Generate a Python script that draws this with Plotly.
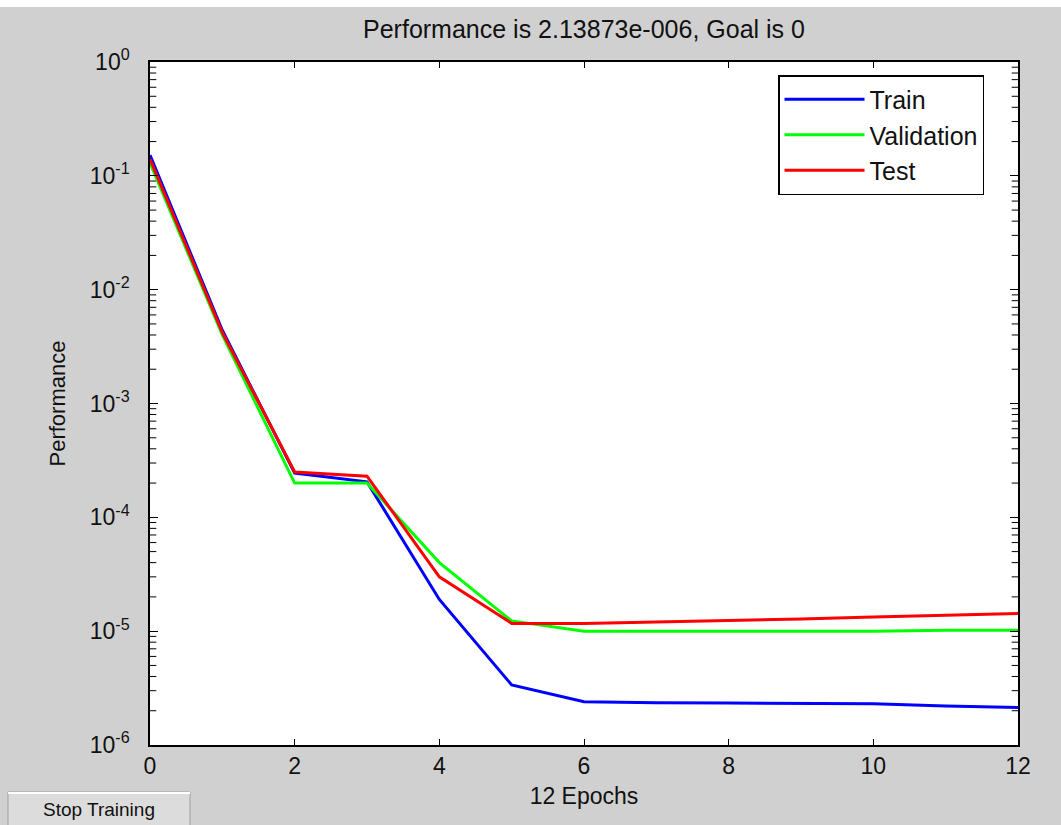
import plotly.graph_objects as go

epochs = list(range(13))
train = [0.152, 0.0044, 2.45e-4, 2.05e-4, 1.9e-5, 3.37e-6, 2.4e-6, 2.35e-6, 2.34e-6, 2.33e-6, 2.3e-6, 2.2e-6, 2.13873e-6]
validation = [0.13, 0.0040, 2.0e-4, 2.0e-4, 4.0e-5, 1.23e-5, 1.0e-5, 1.0e-5, 1.0e-5, 1.0e-5, 1.0e-5, 1.02e-5, 1.02e-5]
test = [0.14, 0.0042, 2.5e-4, 2.3e-4, 3.0e-5, 1.17e-5, 1.17e-5, 1.2e-5, 1.24e-5, 1.28e-5, 1.33e-5, 1.38e-5, 1.43e-5]

ytick_vals = [1, 1e-1, 1e-2, 1e-3, 1e-4, 1e-5, 1e-6]
ytick_text = ["10<sup>0</sup>", "10<sup>-1</sup>", "10<sup>-2</sup>", "10<sup>-3</sup>",
              "10<sup>-4</sup>", "10<sup>-5</sup>", "10<sup>-6</sup>"]
xtick_vals = [0, 2, 4, 6, 8, 10, 12]
ydecades = [-6, -5, -4, -3, -2, -1]
yminor_vals = [m * 10.0 ** d for d in ydecades for m in range(2, 10)]
x_edges = [0, 12]

FONT = "Liberation Sans, Arial, sans-serif"
W, H = 1061, 825
L, R, T, B = 150, 43, 62, 80

fig = go.Figure()
# minor log ticks (inside, both sides), drawn as clipped line markers on the axis edges
for xe in x_edges:
    fig.add_trace(go.Scatter(x=[xe] * len(yminor_vals), y=yminor_vals, mode="markers",
                             marker=dict(symbol="line-ew", size=9, line=dict(color="#000", width=1)),
                             showlegend=False, hoverinfo="skip", cliponaxis=True))
for name, vals, col in [("Train", train, "#0000ff"), ("Validation", validation, "#00ff00"), ("Test", test, "#ff0000")]:
    fig.add_trace(go.Scatter(x=epochs, y=vals, mode="lines", name=name,
                             line=dict(color=col, width=3)))

fig.update_layout(
    width=W, height=H,
    margin=dict(l=L, r=R, t=T, b=B, pad=0),
    paper_bgcolor="#d0d0d0",
    plot_bgcolor="#ffffff",
    font=dict(family=FONT, size=22, color="#111111"),
    title=dict(text="Performance is 2.13873e-006, Goal is 0", x=(L + (W - L - R) / 2) / W, xanchor="center",
               y=1 - 29 / H, yanchor="middle", yref="container", font=dict(size=25, family=FONT)),
    showlegend=True,
    legend=dict(x=(778 - L) / (W - L - R), y=1 - (75 - T) / (H - T - B), xanchor="left", yanchor="top",
                bgcolor="#ffffff", bordercolor="#000000", borderwidth=1.5,
                font=dict(size=25, family=FONT), itemwidth=80, tracegroupgap=0),
    xaxis=dict(range=[0, 12], tickvals=xtick_vals, ticks="inside", ticklen=6, tickcolor="#000",
               showline=True, linecolor="#000", linewidth=1.5, mirror="ticks", showgrid=False, zeroline=False,
               title=dict(text="12 Epochs", standoff=10, font=dict(size=23)), tickfont=dict(size=23)),
    yaxis=dict(type="log", range=[-6, 0], tickvals=ytick_vals, ticktext=ytick_text, ticks="inside",
               ticklen=8, tickcolor="#000", showline=True, linecolor="#000", linewidth=1.5, mirror="ticks",
               showgrid=False, zeroline=False, ticklabelstandoff=14,
               title=dict(text="Performance", standoff=18, font=dict(size=22)), tickfont=dict(size=23)),
)

# white strip at top of the screenshot
fig.add_shape(type="rect", xref="paper", yref="paper", x0=-L / (W - L - R), x1=(W - L) / (W - L - R),
              y0=1 + (T - 7) / (H - T - B), y1=1 + T / (H - T - B) + 0.01, fillcolor="#ffffff", line_width=0, layer="below")
# Stop Training button
bx0, bx1, by0, by1 = 8, 190, 792, 826
def px(x):
    return (x - L) / (W - L - R)
def py(y):
    return 1 - (y - T) / (H - T - B)
fig.add_shape(type="rect", xref="paper", yref="paper", x0=px(bx0), x1=px(bx1), y0=py(by1), y1=py(by0),
              fillcolor="#dcdcdc", line=dict(color="#a0a0a0", width=1))
fig.add_shape(type="line", xref="paper", yref="paper", x0=px(bx0), x1=px(bx1), y0=py(by0 + 1), y1=py(by0 + 1),
              line=dict(color="#ffffff", width=2))
fig.add_annotation(text="Stop Training", xref="paper", yref="paper", x=px((bx0 + bx1) / 2), y=py(809),
                   showarrow=False, font=dict(size=19, family=FONT, color="#111"), xanchor="center", yanchor="middle")

fig.write_html("out.html")
